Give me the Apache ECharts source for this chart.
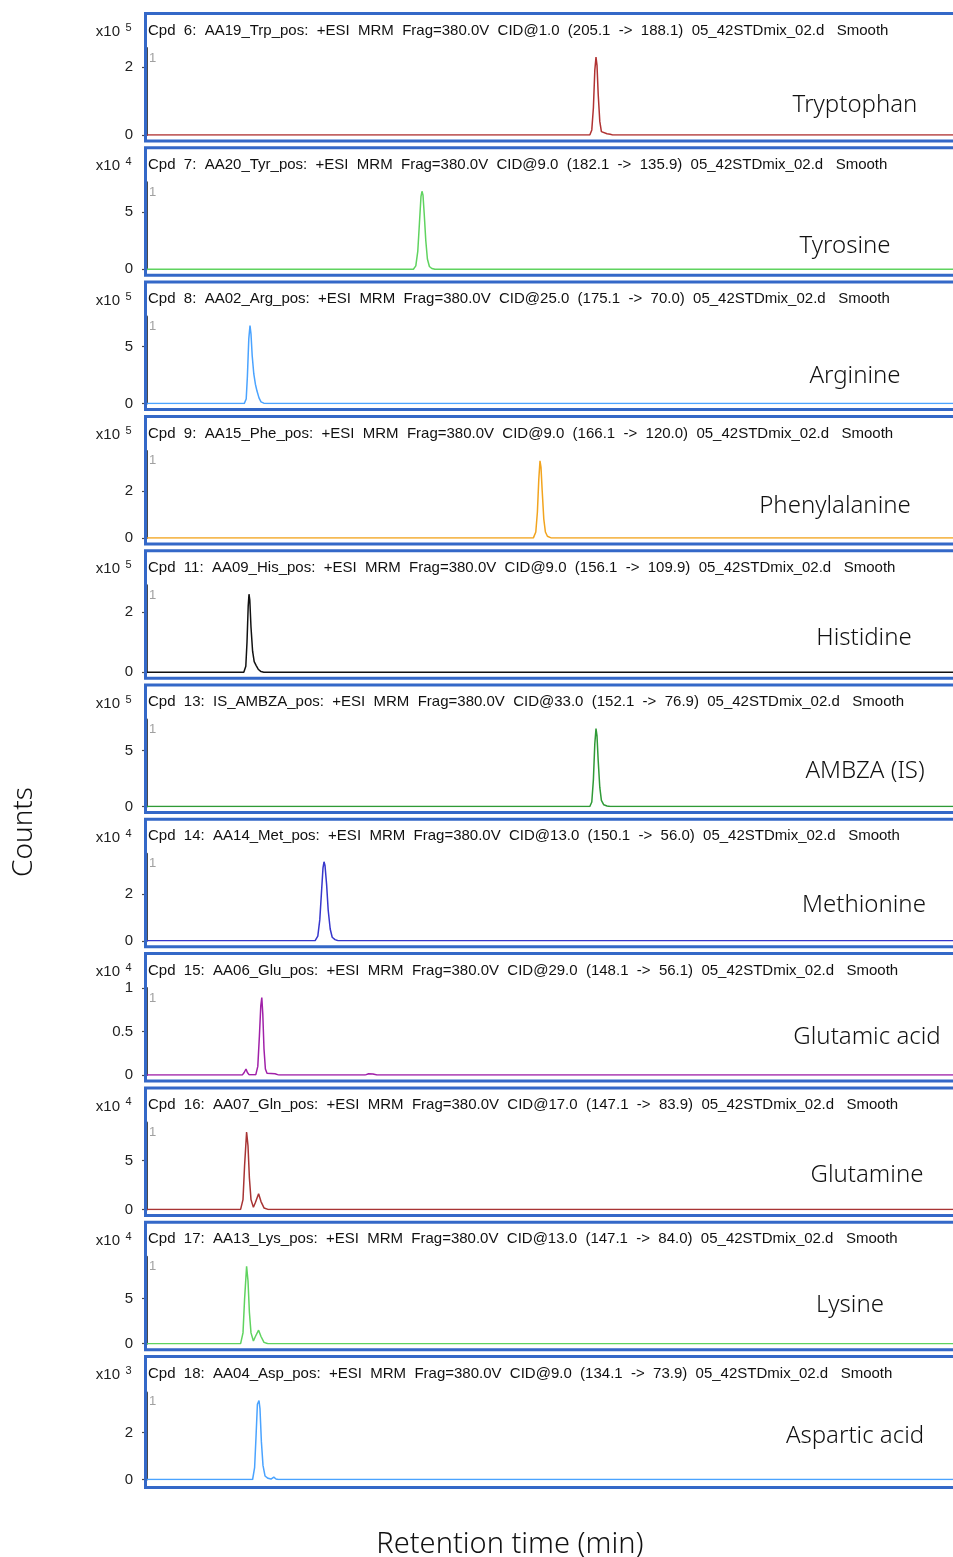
<!DOCTYPE html>
<html>
<head>
<meta charset="utf-8">
<title>MRM chromatograms</title>
<script src="https://cdn.jsdelivr.net/npm/echarts@6/dist/echarts.min.js"></script>
<style>
    html, body {margin: 0; padding: 0; background: #fff;}
    #chart {width: 953px; height: 1557px;}
</style>
</head>
<body>
<div id="chart"></div>
<script>
    // compound names shown on the right of each trace
    var names = ['Tryptophan', 'Tyrosine', 'Arginine', 'Phenylalanine', 'Histidine', 'AMBZA (IS)',
        'Methionine', 'Glutamic acid', 'Glutamine', 'Lysine', 'Aspartic acid'];

    var headers = [
        'Cpd 6: AA19_Trp_pos: +ESI MRM Frag=380.0V CID@1.0 (205.1 -> 188.1) 05_42STDmix_02.d',
        'Cpd 7: AA20_Tyr_pos: +ESI MRM Frag=380.0V CID@9.0 (182.1 -> 135.9) 05_42STDmix_02.d',
        'Cpd 8: AA02_Arg_pos: +ESI MRM Frag=380.0V CID@25.0 (175.1 -> 70.0) 05_42STDmix_02.d',
        'Cpd 9: AA15_Phe_pos: +ESI MRM Frag=380.0V CID@9.0 (166.1 -> 120.0) 05_42STDmix_02.d',
        'Cpd 11: AA09_His_pos: +ESI MRM Frag=380.0V CID@9.0 (156.1 -> 109.9) 05_42STDmix_02.d',
        'Cpd 13: IS_AMBZA_pos: +ESI MRM Frag=380.0V CID@33.0 (152.1 -> 76.9) 05_42STDmix_02.d',
        'Cpd 14: AA14_Met_pos: +ESI MRM Frag=380.0V CID@13.0 (150.1 -> 56.0) 05_42STDmix_02.d',
        'Cpd 15: AA06_Glu_pos: +ESI MRM Frag=380.0V CID@29.0 (148.1 -> 56.1) 05_42STDmix_02.d',
        'Cpd 16: AA07_Gln_pos: +ESI MRM Frag=380.0V CID@17.0 (147.1 -> 83.9) 05_42STDmix_02.d',
        'Cpd 17: AA13_Lys_pos: +ESI MRM Frag=380.0V CID@13.0 (147.1 -> 84.0) 05_42STDmix_02.d',
        'Cpd 18: AA04_Asp_pos: +ESI MRM Frag=380.0V CID@9.0 (134.1 -> 73.9) 05_42STDmix_02.d'
    ];

    // y scale of each panel: counts x10^exponent
    var exponents = [5, 4, 5, 5, 5, 5, 4, 4, 4, 4, 3];
    var yMax = [2.56, 7.63, 7.63, 3.7, 2.9, 7.77, 3.7, 1.0, 8.88, 9.67, 3.7];
    var yTicks = [[0, 2], [0, 5], [0, 5], [0, 2], [0, 2], [0, 5], [0, 2], [0, 0.5, 1], [0, 5], [0, 5], [0, 2]];

    var timeMin = 0, timeMax = 20.15;

    // traces: [retention time (min), counts in units of 10^exponent]
    var trp = [[0, 0], [11.07, 0], [11.12, 0.15], [11.16, 0.8], [11.195, 1.9], [11.225, 2.29], [11.25, 2.05], [11.28, 1.2],
        [11.32, 0.4], [11.36, 0.1], [11.41, 0.05], [11.5, 0.035], [11.58, 0.02], [11.64, 0], [20.15, 0]];
    var tyr = [[0, 0], [6.66, 0], [6.72, 0.3], [6.77, 1.6], [6.81, 4.0], [6.85, 6.4], [6.875, 6.84], [6.9, 6.5], [6.93, 4.9],
        [6.97, 2.5], [7.01, 0.9], [7.06, 0.25], [7.12, 0.07], [7.2, 0], [20.15, 0]];
    var arg = [[0, 0], [2.43, 0], [2.48, 0.4], [2.51, 2.4], [2.545, 5.7], [2.575, 6.84], [2.6, 6.1], [2.63, 4.2], [2.67, 2.6],
        [2.71, 1.7], [2.75, 1.1], [2.8, 0.5], [2.85, 0.15], [2.92, 0.04], [3.0, 0], [20.15, 0]];
    var phe = [[0, 0], [9.66, 0], [9.72, 0.25], [9.76, 1.1], [9.795, 2.5], [9.825, 3.28], [9.85, 3.0], [9.88, 2.0], [9.92, 0.8],
        [9.96, 0.25], [10.01, 0.07], [10.1, 0], [20.15, 0]];
    var his = [[0, 0], [2.42, 0], [2.47, 0.2], [2.5, 1.0], [2.53, 2.2], [2.55, 2.6], [2.57, 2.4], [2.6, 1.5], [2.64, 0.7],
        [2.68, 0.35], [2.73, 0.22], [2.78, 0.1], [2.85, 0.02], [2.92, 0], [20.15, 0]];
    var ambza = [[0, 0], [11.07, 0], [11.12, 0.4], [11.16, 2.4], [11.195, 5.6], [11.225, 6.96], [11.25, 6.3], [11.28, 4.1],
        [11.32, 1.7], [11.36, 0.55], [11.42, 0.15], [11.5, 0.05], [11.58, 0], [20.15, 0]];
    var met = [[0, 0], [4.2, 0], [4.27, 0.2], [4.32, 0.9], [4.36, 2.0], [4.4, 3.1], [4.425, 3.36], [4.45, 3.2], [4.49, 2.4],
        [4.53, 1.3], [4.58, 0.5], [4.63, 0.15], [4.7, 0.05], [4.78, 0], [20.15, 0]];
    var glu = [[0, 0], [2.38, 0], [2.43, 0.03], [2.475, 0.07], [2.51, 0.03], [2.55, 0.005], [2.72, 0.005], [2.77, 0.1],
        [2.81, 0.45], [2.845, 0.8], [2.87, 0.89], [2.895, 0.7], [2.925, 0.3], [2.96, 0.07], [3.0, 0.02], [3.2, 0.015],
        [3.3, 0], [5.45, 0], [5.54, 0.015], [5.65, 0.012], [5.75, 0], [20.15, 0]];
    var gln = [[0, 0], [2.34, 0], [2.4, 1.0], [2.44, 4.5], [2.49, 7.9], [2.525, 6.5], [2.56, 3.2], [2.6, 1.0], [2.66, 0.22],
        [2.71, 0.7], [2.79, 1.6], [2.85, 0.8], [2.925, 0.15], [3.025, 0], [20.15, 0]];
    var lys = [[0, 0], [2.34, 0], [2.4, 1.2], [2.44, 5.0], [2.49, 8.6], [2.525, 7.0], [2.56, 3.5], [2.6, 1.2], [2.66, 0.3],
        [2.71, 0.8], [2.79, 1.5], [2.85, 0.8], [2.925, 0.15], [3.025, 0], [20.15, 0]];
    var asp = [[0, 0], [2.64, 0], [2.69, 0.5], [2.725, 1.8], [2.76, 3.2], [2.8, 3.36], [2.825, 3.0], [2.86, 1.6], [2.9, 0.6],
        [2.95, 0.15], [3.025, 0.05], [3.1, 0.02], [3.17, 0.1], [3.225, 0.02], [3.28, 0], [20.15, 0]];

    var traces = [trp, tyr, arg, phe, his, ambza, met, glu, gln, lys, asp];

    // layout / style (not data)
    var colors = ['#b03232', '#5fd35f', '#4aa3ff', '#f2a41e', '#111111', '#2f9a36',
        '#3636cc', '#a020a8', '#a83434', '#5fd35f', '#4aa3ff'];
    var nameX = [855, 845, 855, 835, 864, 865, 864, 867, 867, 850, 855];
    var nameDy = [93.5, 99.5, 95.5, 91.5, 88.5, 87.5, 87.5, 85.5, 88.5, 84.5, 81.5];

    function buildOption() {
        var panelTop0 = 12, panelStep = 134.3, plotLeft = 147, plotWidth = 806;
        var axisColor = '#4a4a4a';
        var labelFont = '"Liberation Sans", Arial, sans-serif';
        var grids = [], xAxes = [], yAxes = [], series = [], graphics = [];

        for (var i = 0; i < traces.length; i++) {
            var pTop = panelTop0 + i * panelStep;
            var last = i === traces.length - 1;
            grids.push({left: plotLeft, top: pTop + 36 + (last ? 1.5 : 0), width: plotWidth, height: 87});
            xAxes.push({type: 'value', gridIndex: i, min: timeMin, max: timeMax, show: false});
            yAxes.push({
                type: 'value', gridIndex: i, min: 0, max: yMax[i], offset: 4,
                axisLine: {show: true, lineStyle: {color: axisColor, width: 2}},
                axisTick: {show: true, length: 5, customValues: yTicks[i], lineStyle: {color: axisColor, width: 1.2}},
                axisLabel: {
                    customValues: yTicks[i], margin: 10, fontSize: 15, color: '#222',
                    fontFamily: labelFont
                },
                splitLine: {show: false}
            });
            series.push({
                type: 'line', xAxisIndex: i, yAxisIndex: i, data: traces[i],
                showSymbol: false, silent: true, animation: false,
                lineStyle: {color: colors[i], width: 1.5}
            });

            // blue frame round each panel
            graphics.push({
                type: 'rect', z: 1,
                shape: {x: 145.5, y: pTop + 1.5, width: 840, height: last ? 131 : 127.5},
                style: {fill: null, stroke: '#3468c8', lineWidth: 3}
            });
            graphics.push({
                type: 'text', x: 148, y: pTop + 18.5,
                style: {
                    text: headers[i].replace(/ /g, '  ') + '   Smooth',
                    font: '15px ' + labelFont, fill: '#111', textVerticalAlign: 'middle'
                }
            });
            graphics.push({
                type: 'text', x: 120, y: pTop + 20,
                style: {text: 'x10', font: '15px ' + labelFont, fill: '#222', textAlign: 'right', textVerticalAlign: 'middle'}
            });
            graphics.push({
                type: 'text', x: 125.5, y: pTop + 16,
                style: {text: String(exponents[i]), font: '11px ' + labelFont, fill: '#222', textVerticalAlign: 'middle'}
            });
            graphics.push({
                type: 'text', x: 149, y: pTop + 46,
                style: {text: '1', font: '13px ' + labelFont, fill: '#a0a0a0', textVerticalAlign: 'middle'}
            });
            graphics.push({
                type: 'text', x: nameX[i], y: pTop + nameDy[i],
                style: {
                    text: names[i], font: '300 24px "Noto Sans", sans-serif', fill: '#111',
                    textAlign: 'center', textVerticalAlign: 'middle'
                }
            });
        }

        graphics.push({
            type: 'text', x: 24, y: 832, rotation: Math.PI / 2,
            style: {text: 'Counts', font: '300 28px "Noto Sans", sans-serif', fill: '#111', textAlign: 'center', textVerticalAlign: 'middle'}
        });
        graphics.push({
            type: 'text', x: 510, y: 1545,
            style: {text: 'Retention time (min)', font: '300 29px "Noto Sans", sans-serif', fill: '#111', textAlign: 'center', textVerticalAlign: 'middle'}
        });

        return {
            animation: false,
            grid: grids,
            xAxis: xAxes,
            yAxis: yAxes,
            series: series,
            graphic: graphics
        };
    }

    var myChart = echarts.init(document.getElementById('chart'), null, {renderer: 'canvas'});
    myChart.setOption(buildOption());
</script>
</body>
</html>
